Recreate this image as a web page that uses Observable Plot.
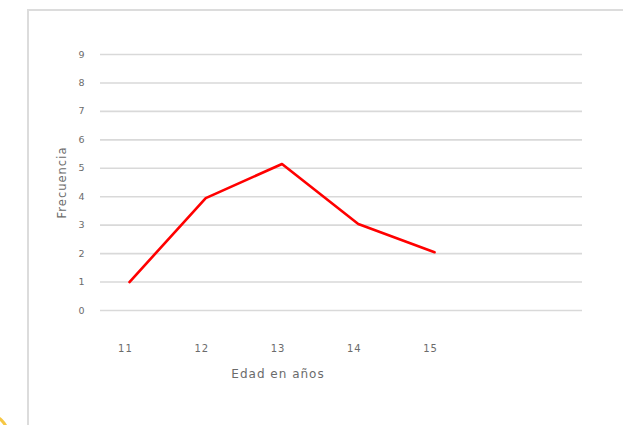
<!DOCTYPE html>
<html>
<head>
<meta charset="utf-8">
<script src="https://cdn.jsdelivr.net/npm/d3@7"></script>
<script src="https://cdn.jsdelivr.net/npm/@observablehq/plot@0.6"></script>
<style>
  html, body { margin: 0; padding: 0; background: #fff; overflow: hidden; }
  #wrap { position: relative; width: 623px; height: 425px; }
  #box { position: absolute; left: 27px; top: 9px; width: 700px; height: 500px;
         border: 2px solid #dcdcdc; box-sizing: border-box; }
  #deco { position: absolute; left: -40px; top: 412px; width: 50px; height: 50px;
          border-radius: 50%; border: 3px solid #f6c744; box-sizing: border-box; }
  #chart { position: absolute; left: 0; top: 0; }
</style>
</head>
<body>
<div id="wrap">
  <div id="box"></div>
  <div id="deco"></div>
  <div id="chart"></div>
</div>
<script>
const ages = [11, 12, 13, 14, 15];
const frecuencia = [1, 3.95, 5.15, 3.04, 2.05];
const yTicks = [0, 1, 2, 3, 4, 5, 6, 7, 8, 9];
const xTitle = "Edad en años";
const yTitle = "Frecuencia";

const data = ages.map((a, i) => ({edad: a, frecuencia: frecuencia[i]}));
const font = "'DejaVu Sans', sans-serif";
const textColor = "#6b6b6b";

const chart = Plot.plot({
  width: 623,
  height: 425,
  marginLeft: 100,
  marginRight: 41,
  marginTop: 54,
  marginBottom: 115,
  style: {fontFamily: font, background: "transparent", color: textColor, letterSpacing: "1px"},
  x: {domain: [10.62, 16.94]},
  y: {domain: [0, 9]},
  marks: [
    Plot.gridY(yTicks, {stroke: "#d9d9d9", strokeOpacity: 1, strokeWidth: 1.6}),
    Plot.axisY(yTicks, {tickSize: 0, tickPadding: 15, fontSize: 9.5, fill: textColor, label: null}),
    Plot.axisX(ages, {tickSize: 0, tickPadding: 34, fontSize: 10, fill: textColor, dx: -4, label: null}),
    Plot.text([xTitle], {x: 13, frameAnchor: "bottom", dx: -4, dy: 67.5, fontSize: 12, fill: textColor}),
    Plot.text([yTitle], {frameAnchor: "left", textAnchor: "middle", rotate: -90, dx: -38, fontSize: 11.5, fill: textColor}),
    Plot.lineY(data, {x: "edad", y: "frecuencia", stroke: "#ff0000", strokeWidth: 2.6})
  ]
});
document.getElementById("chart").appendChild(chart);
</script>
</body>
</html>
